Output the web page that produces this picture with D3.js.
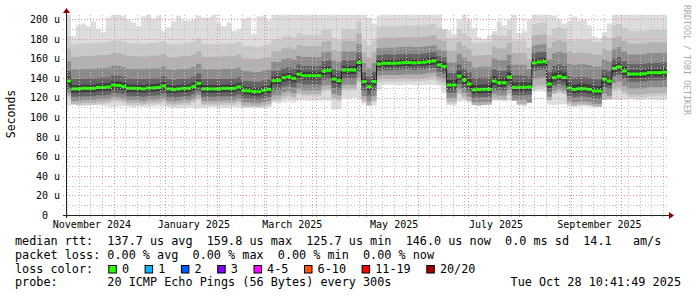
<!DOCTYPE html>
<html>
<head>
<meta charset="utf-8">
<title>SmokePing - median rtt, last 360 days</title>
<script src="https://cdn.jsdelivr.net/npm/d3@7"></script>
<style>
  body { margin: 0; background: #fff; }
  svg text { font-family: "DejaVu Sans Mono", monospace; white-space: pre; }
</style>
</head>
<body>
<svg id="svg"></svg>
<script>

// time base: one step every 3 days
var startTime = "2024-11-02T10:41:49Z", endTime = "2025-10-28T10:41:49Z", stepDays = 3;

// median rtt per step (micro seconds)
var median = [137, 129, 129, 129.6, 129.6, 129.6, 130.5, 130.5, 131, 133,
  132.5, 131.5, 129.6, 129.6, 129.5, 129, 130, 130, 130.5, 132,
  129, 128.3, 129, 129.6, 129.6, 131.5, 134.7, 129, 129, 129,
  129, 129.5, 129.5, 129.5, 131, 127.2, 127, 126.2, 126.2, 127.5,
  128.6, 137.4, 137.6, 140.5, 141.5, 139.8, 144, 142.5, 142.5, 142.5,
  142.5, 147.3, 148, 139, 137.4, 148.3, 148.3, 148.3, 156, 136.4,
  131.3, 136.5, 154.5, 155.2, 155.2, 155.2, 155.5, 155.8, 156, 155.6,
  155.8, 156.2, 157, 157.5, 153.5, 152, 133, 133, 142, 138,
  134, 128, 128.3, 128.6, 128.6, 137, 135.3, 135.3, 141, 130.6,
  130.6, 130.6, 131, 155.5, 156.5, 156.8, 134, 140.5, 142, 140.5,
  130, 128.5, 129.2, 129.2, 128.5, 126.9, 126.9, 139, 137, 150,
  151.5, 147.3, 144.2, 144.2, 144.2, 144.5, 145.6, 145.6, 145.6, 146];

// lowest ping per step (bottom of the smoke)
var pingMin = [112, 113, 112, 111.5, 112, 112.5, 112, 111.5,
  111, 110.5, 111, 111.5, 111, 110.5, 111, 111, 110.5, 111, 111.5, 111, 110.5,
  109.5, 109, 109.5, 110, 109.5, 109, 109.5,
  110, 110.5, 110, 109.5, 110, 110.5, 110, 109.5, 110, 110.5, 110, 109.5, 110,
  115, 114, 115, 116, 115,
  117, 117.5, 117, 116.5, 117, 117.5, 117,
  108, 108.5,
  120, 119.5, 120,
  119, 114,
  112, 112,
  128,
  133, 133.5, 133, 132.5, 133, 133.5, 133, 132.5, 133, 133.5, 133, 132.5,
  125,
  112.5, 112,
  116, 116.5, 116,
  112.5, 112, 112.5, 113,
  117, 117.5, 117, 116.5, 117,
  112.5, 112,
  115,
  126, 126.5, 126,
  113, 112.5, 113, 113.5,
  111, 110.5, 111, 111.5, 111, 110.5, 111,
  118, 118.5, 118, 117.5, 118, 118.5, 118, 117.5, 118, 118.5, 118, 117.5, 118];

// highest ping per step (top of the smoke, 205 = off the chart)
var pingMax = [205, 183, 194, 196, 193, 198, 190, 187, 202, 205,
  205, 204, 200, 197, 193, 203, 205, 201, 204, 188,
  192, 198, 204, 199, 199, 200, 204, 202, 202, 205,
  197, 193, 197, 188, 190, 200, 202, 185, 203, 204, 200,
  205, 205, 205, 205, 205, 205, 205, 205, 205, 205,
  205, 205, 205, 205, 205, 205, 205, 205, 205,
  202, 196, 204,
  205, 205, 205, 205, 205, 205, 205, 205, 205, 205, 205, 205,
  190, 189, 185, 200, 205, 200, 191, 182, 180, 184, 188, 198, 194, 200, 205,
  186, 188, 200,
  205, 205, 205, 205,
  204, 200, 196, 198, 203, 199, 200, 194, 182, 181, 187, 196,
  205, 205, 205, 205, 205, 205, 205, 205, 205, 205, 205];

// spread of the inner pings around the median, per period
var regimeStart = [0, 41, 62, 76, 92, 96, 107];
var down9 = [4, 4, 3.5, 4, 4, 4, 4];
var down7 = [8, 9, 7, 8, 8, 8, 8];
var down5 = [12, 15, 12, 13, 16, 13, 15];
var down3 = [15, 19, 16, 17, 24, 16, 21];
var down2 = [17, 21, 19, 19, 27, 17, 24];
var up9 = [4, 4, 4, 5, 4, 5, 4];
var up7 = [10, 10, 9, 12, 10, 12, 10];
var up5 = [20, 19, 16, 23, 18, 25, 20];
var up3 = [33, 30, 26, 35, 28, 37, 31];
var up2 = [46, 42, 38, 48, 40, 50, 44];

var yTicks = [0, 20, 40, 60, 80, 100, 120, 140, 160, 180, 200];
var yMinor = [10, 30, 50, 70, 90, 110, 130, 150, 170, 190];
var monthLabels = ["2024-11-01", "2025-01-01", "2025-03-01", "2025-05-01", "2025-07-01", "2025-09-01"];

var lossLabels = ["0", "1", "2", "3", "4-5", "6-10", "11-19", "20/20"];
var lossColors = ["#26ff00", "#00b8ff", "#0059ff", "#7e00ff", "#ff00ff", "#ff5500", "#ff0000", "#a10000"];

var legendLines = [
  "median rtt:  137.7 us avg  159.8 us max  125.7 us min  146.0 us now  0.0 ms sd  14.1   am/s",
  "packet loss: 0.00 % avg  0.00 % max  0.00 % min  0.00 % now",
  "loss color:",
  "probe:       20 ICMP Echo Pings (56 Bytes) every 300s"
];
var stamp = "Tue Oct 28 10:41:49 2025";

render();

function render() {
  var width = 697, height = 297,
      left = 66, right = 667, bottom = 215, top = 14.6;
  var DAY = 864e5;
  var t0 = new Date(startTime), t1 = new Date(endTime);

  var svg = d3.select("#svg").attr("width", width).attr("height", height);
  svg.append("rect").attr("width", width).attr("height", height).attr("fill", "#fff");

  var x = d3.scaleUtc().domain([t0, t1]).range([left, right]);
  var y = d3.scaleLinear().domain([0, 205]).range([bottom, top]);

  function regimeOf(i) {
    var r = 0;
    regimeStart.forEach(function(s, k) { if (i >= s) r = k; });
    return r;
  }

  var rows = median.map(function(m, i) {
    var r = regimeOf(i), lo = pingMin[i], hi = pingMax[i];
    function cl(v) { return Math.max(lo, Math.min(hi, v)); }
    return {
      t: new Date(+t0 + i * stepDays * DAY), med: m,
      b1: [lo, hi],
      b2: [cl(m - down2[r]), cl(m + up2[r])],
      b3: [cl(m - down3[r]), cl(m + up3[r])],
      b5: [cl(m - down5[r]), cl(m + up5[r])],
      b7: [cl(m - down7[r]), cl(m + up7[r])],
      b9: [cl(m - down9[r]), cl(m + up9[r])]
    };
  });
  rows.push(Object.assign({}, rows[rows.length - 1], {t: t1}));

  svg.append("clipPath").attr("id", "plot")
    .append("rect").attr("x", left + 1).attr("y", top)
    .attr("width", right - left - 1).attr("height", bottom - top);

  var body = svg.append("g").attr("clip-path", "url(#plot)");

  // smoke, outer pings lightest
  var layers = [["b1", "#dddddd"], ["b2", "#cacaca"], ["b3", "#b2b2b2"],
                ["b5", "#8c8c8c"], ["b7", "#646464"], ["b9", "#3e3e3e"]];
  layers.forEach(function(l) {
    var area = d3.area()
      .x(function(d) { return x(d.t); })
      .y0(function(d) { return y(d[l[0]][0]); })
      .y1(function(d) { return y(d[l[0]][1]); })
      .curve(d3.curveStepAfter);
    body.append("path").datum(rows).attr("d", area).attr("fill", l[1]);
  });

  // grid
  var minorC = "#bdbdbd", majorC = "#e09494";
  var weeks = d3.utcSunday.range(t0, t1);
  var months = d3.utcMonth.range(t0, t1);
  var grid = svg.append("g").attr("stroke-width", 1).attr("stroke-dasharray", "1,2");

  weeks.forEach(function(d) {
    var px = Math.round(x(d)) + 0.5;
    grid.append("path").attr("d", "M" + px + "," + (bottom + 2) + "V15").attr("stroke", minorC);
  });
  months.forEach(function(d) {
    var px = Math.round(x(d)) + 0.5;
    grid.append("path").attr("d", "M" + px + "," + (bottom + 2) + "V15").attr("stroke", majorC);
  });
  yMinor.forEach(function(v) {
    var py = Math.round(y(v)) + 0.5;
    grid.append("path").attr("d", "M" + (left - 3) + "," + py + "H" + right).attr("stroke", minorC);
  });
  yTicks.slice(1).forEach(function(v) {
    var py = Math.round(y(v)) + 0.5;
    grid.append("path").attr("d", "M" + (left - 3) + "," + py + "H" + right).attr("stroke", majorC);
  });

  // median: dark connectors + green band
  var medLine = d3.line()
    .x(function(d) { return x(d.t); })
    .y(function(d) { return y(d.med); })
    .curve(d3.curveStepAfter);
  body.append("path").datum(rows).attr("d", medLine)
    .attr("fill", "none").attr("stroke", "#1a1a1a").attr("stroke-width", 1);
  body.selectAll("rect.med").data(rows.slice(0, -1)).enter().append("rect").attr("class", "med")
    .attr("x", function(d) { return x(d.t); })
    .attr("width", function(d, i) { return x(rows[i + 1].t) - x(d.t); })
    .attr("y", function(d) { return y(d.med) - 1.5; })
    .attr("height", 3)
    .attr("fill", lossColors[0]);

  // axes
  svg.append("line").attr("x1", left - 3).attr("x2", right + 4)
    .attr("y1", bottom + 0.5).attr("y2", bottom + 0.5).attr("stroke", "#222");
  svg.append("line").attr("x1", left + 0.5).attr("x2", left + 0.5)
    .attr("y1", bottom + 3).attr("y2", 12).attr("stroke", "#222");
  svg.append("path").attr("d", "M669,212L674,215.5L669,219Z").attr("fill", "#900000");
  svg.append("path").attr("d", "M63,13L66.5,8L70,13Z").attr("fill", "#900000");

  // y labels
  svg.selectAll("text.yl").data(yTicks).enter().append("text").attr("class", "yl")
    .attr("x", function(d) { return d ? 60 : 48; })
    .attr("y", function(d) { return y(d) + 3.8; })
    .attr("text-anchor", "end").attr("font-size", 10)
    .text(function(d) { return d ? d + " u" : "0"; });

  // x labels
  var fmt = d3.utcFormat("%B %Y");
  svg.selectAll("text.xl").data(monthLabels).enter().append("text").attr("class", "xl")
    .attr("x", function(d) { return x(new Date(+new Date(d + "T00:00:00Z") + 17 * DAY)); })
    .attr("y", 227.5)
    .attr("text-anchor", "middle").attr("font-size", 10)
    .text(function(d) { return fmt(new Date(d + "T00:00:00Z")); });

  svg.append("text").attr("transform", "translate(14.5,114)rotate(-90)")
    .attr("text-anchor", "middle").attr("font-size", 11.5).text("Seconds");

  svg.append("text").attr("transform", "translate(683.5,5)rotate(90)")
    .attr("font-size", 8.3).attr("fill", "#a8a8a8").text("RRDTOOL / TOBI OETIKER");

  // legend
  var base = [245, 258.7, 272.5, 286];
  svg.selectAll("text.lg").data(legendLines).enter().append("text").attr("class", "lg")
    .attr("x", 15).attr("y", function(d, i) { return base[i]; })
    .attr("font-size", 11.8).text(function(d) { return d; });
  svg.append("text").attr("x", 681).attr("y", base[3])
    .attr("text-anchor", "end").attr("font-size", 11.8).text(stamp);

  var bx = 108.3;
  lossLabels.forEach(function(lab, i) {
    svg.append("rect").attr("x", bx + 0.5).attr("y", 265.5)
      .attr("width", 7.5).attr("height", 7.5)
      .attr("fill", lossColors[i]).attr("stroke", "#000").attr("stroke-width", 1);
    svg.append("text").attr("x", bx + 13.6).attr("y", base[2])
      .attr("font-size", 11.8).text(lab);
    bx += 13.6 + lab.length * 7.1 + 15.6;
  });
}
</script>
</body>
</html>
